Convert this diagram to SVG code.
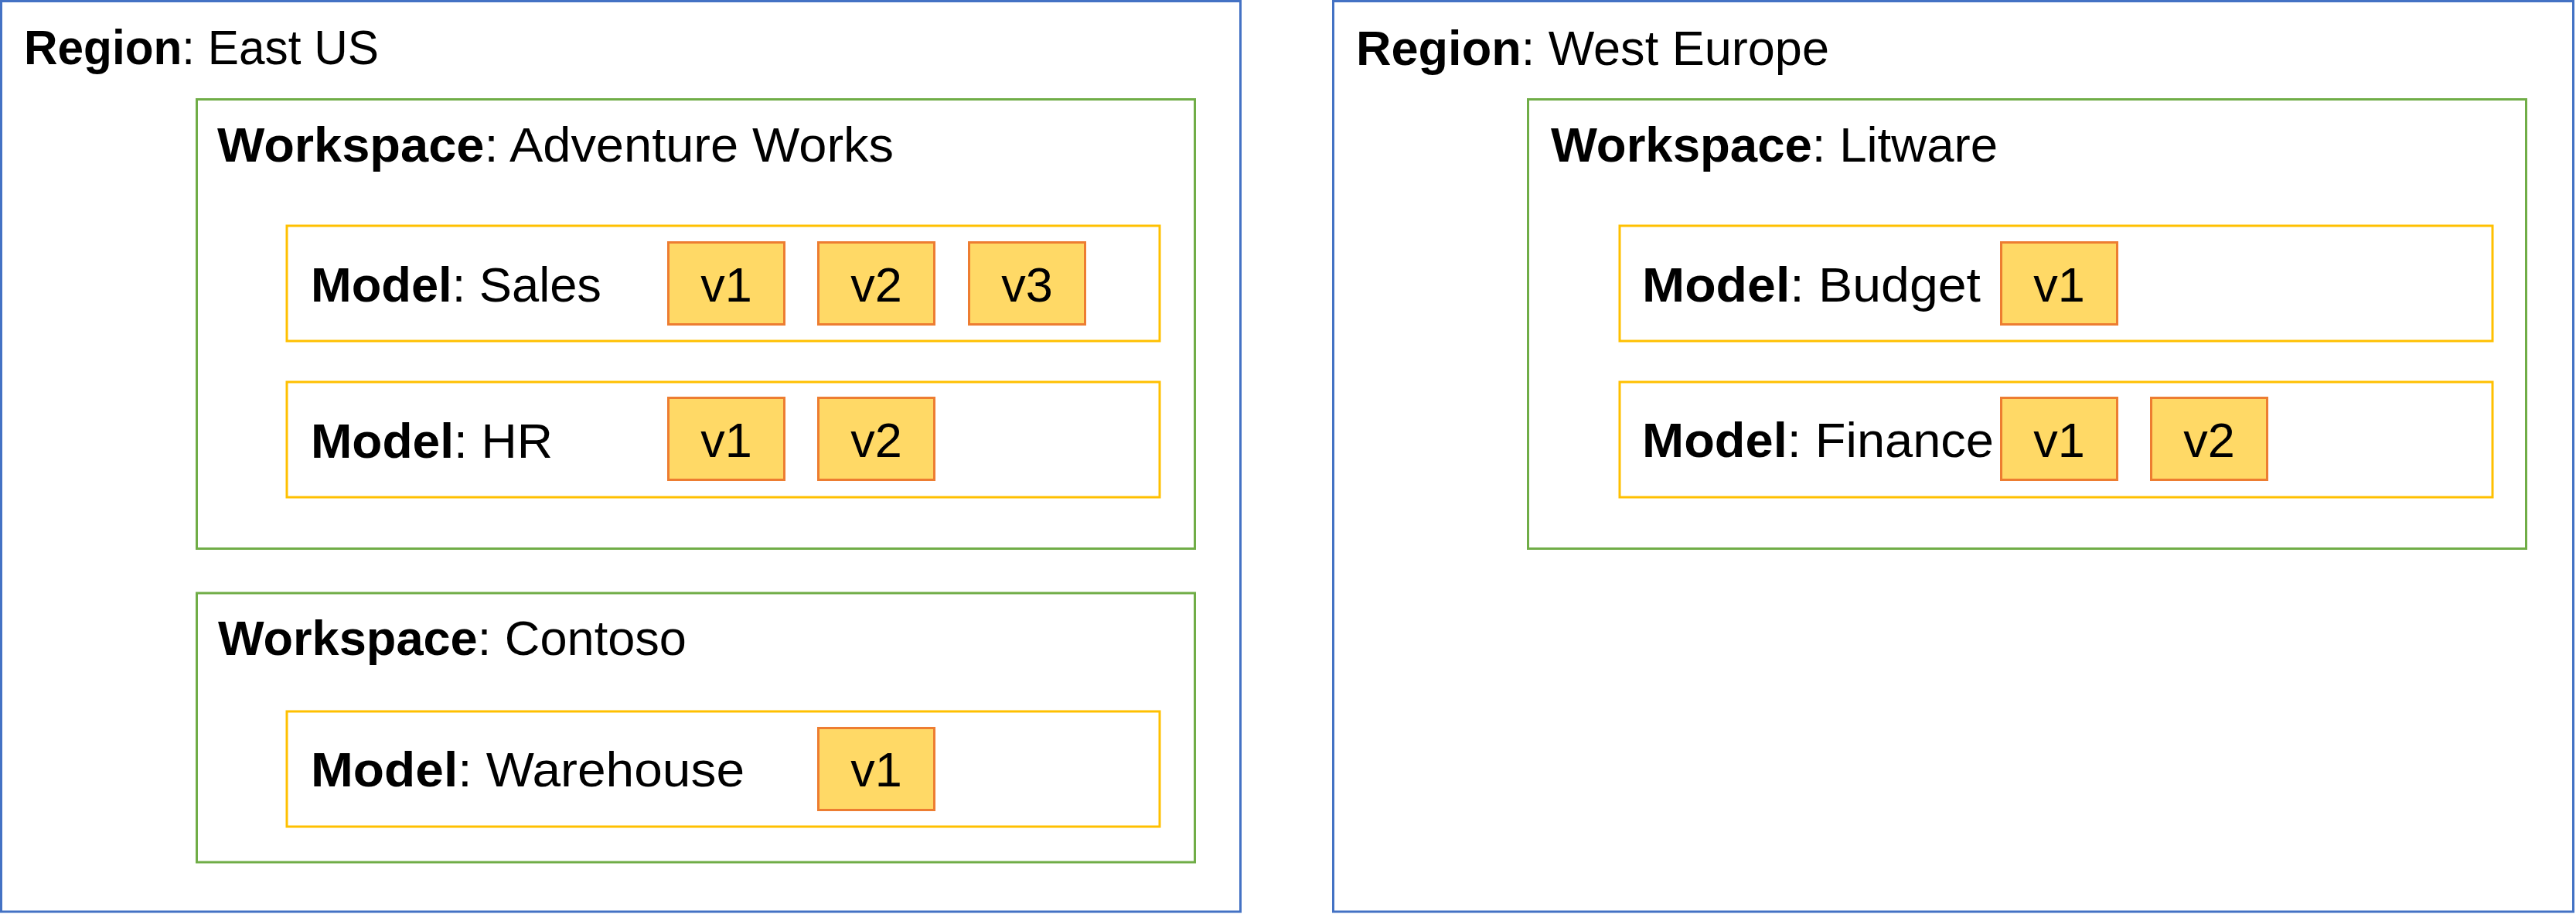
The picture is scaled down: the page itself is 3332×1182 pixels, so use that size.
<svg xmlns="http://www.w3.org/2000/svg" width="3332" height="1182" viewBox="0 0 3332 1182">
<style>
.region{fill:#fff;stroke:#4472C4;stroke-width:3}
.ws{fill:#fff;stroke:#70AD47;stroke-width:3}
.model{fill:#fff;stroke:#FFC000;stroke-width:3}
.ver{fill:#FFD966;stroke:#ED7D31;stroke-width:3}
text{font-family:"Liberation Sans",Arial,sans-serif;font-size:63px;fill:#000}
.b{font-weight:bold}
.vl{text-anchor:middle}
</style>
<rect width="3332" height="1182" fill="#fff"/>
<g id="region-east-us">
<rect class="region" x="1.5" y="1.5" width="1603" height="1177.5"/>
<text x="31" y="83" textLength="459" lengthAdjust="spacingAndGlyphs"><tspan class="b">Region</tspan>: East US</text>
</g>
<g id="region-west-europe">
<rect class="region" x="1724.5" y="1.5" width="1604" height="1177.5"/>
<text x="1754" y="84" textLength="612" lengthAdjust="spacingAndGlyphs"><tspan class="b">Region</tspan>: West Europe</text>
</g>
<g id="ws-adventure-works">
<rect class="ws" x="254.5" y="128.5" width="1291" height="581"/>
<text x="281" y="209" textLength="875" lengthAdjust="spacingAndGlyphs"><tspan class="b">Workspace</tspan>: Adventure Works</text>
</g>
<g id="ws-contoso">
<rect class="ws" x="254.5" y="767" width="1291" height="348"/>
<text x="282" y="847" textLength="606" lengthAdjust="spacingAndGlyphs"><tspan class="b">Workspace</tspan>: Contoso</text>
</g>
<g id="ws-litware">
<rect class="ws" x="1976.5" y="128.5" width="1291" height="581"/>
<text x="2006" y="209" textLength="578" lengthAdjust="spacingAndGlyphs"><tspan class="b">Workspace</tspan>: Litware</text>
</g>
<g id="model-sales">
<rect class="model" x="371" y="292" width="1129" height="149"/>
<text x="402" y="390" textLength="376" lengthAdjust="spacingAndGlyphs"><tspan class="b">Model</tspan>: Sales</text>
</g>
<g id="model-hr">
<rect class="model" x="371" y="494" width="1129" height="149"/>
<text x="402" y="592" textLength="313" lengthAdjust="spacingAndGlyphs"><tspan class="b">Model</tspan>: HR</text>
</g>
<g id="model-warehouse">
<rect class="model" x="371" y="920" width="1129" height="149"/>
<text x="402" y="1017" textLength="561" lengthAdjust="spacingAndGlyphs"><tspan class="b">Model</tspan>: Warehouse</text>
</g>
<g id="model-budget">
<rect class="model" x="2095" y="292" width="1129" height="149"/>
<text x="2124" y="390" textLength="438" lengthAdjust="spacingAndGlyphs"><tspan class="b">Model</tspan>: Budget</text>
</g>
<g id="model-finance">
<rect class="model" x="2095" y="494" width="1129" height="149"/>
<text x="2124" y="591" textLength="455" lengthAdjust="spacingAndGlyphs"><tspan class="b">Model</tspan>: Finance</text>
</g>
<g id="sales-v1"><rect class="ver" x="864.5" y="313.5" width="150" height="106"/><text class="vl" x="939.5" y="389.5">v1</text></g>
<g id="sales-v2"><rect class="ver" x="1058.5" y="313.5" width="150" height="106"/><text class="vl" x="1133.5" y="389.5">v2</text></g>
<g id="sales-v3"><rect class="ver" x="1253.5" y="313.5" width="150" height="106"/><text class="vl" x="1328.5" y="389.5">v3</text></g>
<g id="hr-v1"><rect class="ver" x="864.5" y="514.5" width="150" height="106"/><text class="vl" x="939.5" y="591">v1</text></g>
<g id="hr-v2"><rect class="ver" x="1058.5" y="514.5" width="150" height="106"/><text class="vl" x="1133.5" y="591">v2</text></g>
<g id="warehouse-v1"><rect class="ver" x="1058.5" y="941.5" width="150" height="106"/><text class="vl" x="1133.5" y="1017">v1</text></g>
<g id="budget-v1"><rect class="ver" x="2588.5" y="313.5" width="150" height="106"/><text class="vl" x="2663.5" y="390">v1</text></g>
<g id="finance-v1"><rect class="ver" x="2588.5" y="514.5" width="150" height="106"/><text class="vl" x="2663.5" y="591">v1</text></g>
<g id="finance-v2"><rect class="ver" x="2782.5" y="514.5" width="150" height="106"/><text class="vl" x="2857.5" y="591">v2</text></g>
<g id="connectors"></g>
</svg>
